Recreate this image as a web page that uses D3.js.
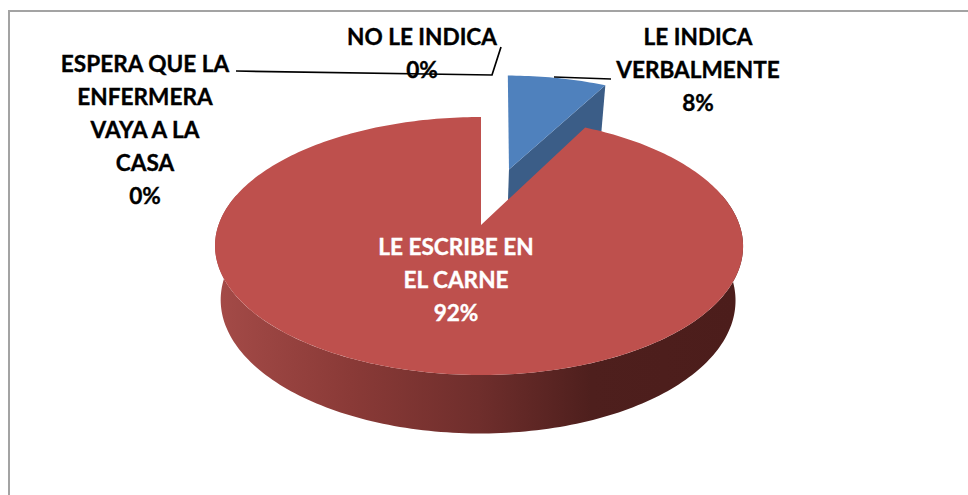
<!DOCTYPE html>
<html><head><meta charset="utf-8">
<script src="https://cdn.jsdelivr.net/npm/d3@7/dist/d3.min.js"></script>
<style>html,body{margin:0;padding:0;background:#fff}svg{display:block}text{font-family:Lato,"Open Sans",sans-serif;font-weight:700}</style>
</head><body><svg id="c" width="968" height="495"></svg>
<script>
const categories = ["LE INDICA VERBALMENTE", "LE ESCRIBE EN EL CARNE", "ESPERA QUE LA ENFERMERA VAYA A LA CASA", "NO LE INDICA"];
const values = [7.6, 92.4, 0, 0];
const labelLines = [["LE INDICA", "VERBALMENTE"], ["LE ESCRIBE EN", "EL CARNE"], ["ESPERA QUE LA", "ENFERMERA", "VAYA A LA", "CASA"], ["NO LE INDICA"]];
const labelX = [698, 456, 145, 422];
const labelTop = [45, 255, 72, 45];
const labelColors = ["#000", "#fff", "#000", "#000"];

const W = 968, H = 495, lineGap = 33, fontSize = 22.6;
const svg = d3.select("#c");
const defs = svg.append("defs");
const grad = defs.append("linearGradient").attr("id", "wall").attr("gradientUnits", "userSpaceOnUse")
  .attr("x1", 222).attr("x2", 735).attr("y1", 0).attr("y2", 0);
[[0, "#a34a47"], [0.25, "#8a3a37"], [0.5, "#6f2e2c"], [0.72, "#4e1f1d"], [1, "#4c1d1b"]]
  .forEach(s => grad.append("stop").attr("offset", s[0]).attr("stop-color", s[1]));

// perspective projection of the unit disc on to the page
const cx = 481, cy = 225, rx = 260.5, tilt = 0.1628, fall = 88.95;
function project(u, v, low) {
  const den = 1 + tilt * v;
  const x = u * rx / den - 2 * u * u, y = (cy - fall * v) / den;
  if (!low) return [cx + x, y];
  return [cx + x * 0.975 - 1, y + 53.5 / Math.sqrt(den)];
}
const pie = d3.pie().value(d => d).sort(null);
const arcs = pie(values);
const path = d3.line();
function rim(a0, a1, off, low) {
  const n = Math.max(2, Math.ceil(Math.abs(a1 - a0) / 0.02));
  return d3.range(n + 1).map(i => {
    const a = a0 + (a1 - a0) * i / n;
    return project(off[0] + Math.sin(a), off[1] + Math.cos(a), low);
  });
}
const blue = arcs[0], red = arcs[1];
const mid = (blue.startAngle + blue.endAngle) / 2;
const boom = 0.49, turn = 0.012;
const off = [boom * Math.sin(mid), boom * Math.cos(mid)];
const none = [0, 0];

// exploded slice: cut face, then top face
const bEnd = blue.endAngle + turn;
const bq = [off[0] + Math.sin(bEnd), off[1] + Math.cos(bEnd)];
svg.append("path").attr("fill", "#3b5d87").attr("d", path([
  project(bq[0], bq[1]), project(bq[0], bq[1], true), project(off[0], off[1], true), project(off[0], off[1])
]) + "Z");
svg.append("path").attr("fill", "#4f81bd").attr("d", path([project(off[0], off[1]), ...rim(blue.startAngle + turn, bEnd, off)]) + "Z");

// main slice: front wall, then top face
const frontA = Math.PI * 0.42, frontB = Math.PI * 1.58;
svg.append("path").attr("fill", "url(#wall)").attr("d",
  path([...rim(frontA, frontB, none), ...rim(frontA, frontB, none, true).reverse()]) + "Z");
svg.append("path").attr("fill", "#be504d").attr("d", path([project(0, 0), ...rim(red.startAngle, red.endAngle, none)]) + "Z");

// frame
svg.append("path").attr("fill", "none").attr("stroke", "#a3a3a3").attr("stroke-width", 2)
  .attr("d", path([[9, H], [9, 11], [W, 11]]));

// labels
const pct = d3.format(".0f");
categories.forEach((c, i) => {
  const t = svg.append("text").attr("text-anchor", "middle").attr("fill", labelColors[i])
    .attr("stroke", labelColors[i]).attr("stroke-width", 0.35).attr("font-size", fontSize);
  [...labelLines[i], pct(values[i]) + "%"].forEach((s, j) => {
    t.append("tspan").attr("x", labelX[i]).attr("y", labelTop[i] + j * lineGap).text(s);
  });
});

// leader lines
const leaders = [[[236, 71], [492, 75], [501, 47]], [[554, 77], [611, 79]]];
leaders.forEach(p => svg.append("path").attr("fill", "none").attr("stroke", "#000").attr("stroke-width", 1.7).attr("d", path(p)));
</script></body></html>
